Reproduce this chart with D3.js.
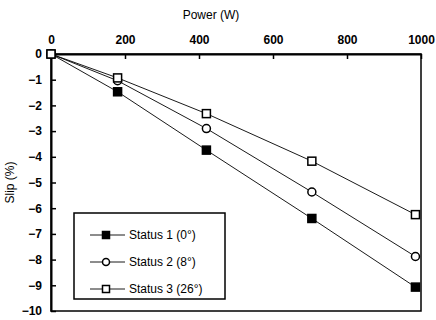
<!DOCTYPE html>
<html>
<head>
<meta charset="utf-8">
<script src="https://cdn.jsdelivr.net/npm/d3@7"></script>
<style>
  body { margin: 0; background: #fff; }
  svg { display: block; }
</style>
</head>
<body>
<div id="chart"></div>
<script>
// data
const power = [0, 180, 420, 705, 985];
const status1 = [0, -1.47, -3.74, -6.4, -9.07];
const status2 = [0, -1.04, -2.9, -5.37, -7.88];
const status3 = [0, -0.93, -2.32, -4.17, -6.25];
const seriesNames = ["Status 1 (0°)", "Status 2 (8°)", "Status 3 (26°)"];
const xTicks = [0, 200, 400, 600, 800, 1000];
const yTicks = [0, -1, -2, -3, -4, -5, -6, -7, -8, -9, -10];

const width = 436, height = 320;
const font = "'Liberation Sans', Arial, sans-serif";

const svg = d3.select("#chart").append("svg")
  .attr("width", width)
  .attr("height", height)
  .attr("font-family", font);

const x = d3.scaleLinear().domain([0, 1000]).range([51, 421]);
const y = d3.scaleLinear().domain([-10, 0]).range([311, 54]);

// frame
svg.append("rect")
  .attr("x", x(0)).attr("y", y(0))
  .attr("width", x(1000) - x(0)).attr("height", y(-10) - y(0))
  .attr("fill", "none").attr("stroke", "#000").attr("stroke-width", 1.5);

// top axis, ticks pointing inward
const xAxis = svg.append("g")
  .attr("transform", `translate(0,${y(0)})`)
  .call(d3.axisTop(x).tickValues(xTicks).tickFormat(d3.format("d"))
    .tickSizeInner(-5).tickSizeOuter(0).tickPadding(10));
xAxis.select(".domain").attr("stroke-width", 2);
xAxis.selectAll(".tick line").attr("stroke-width", 1.5);
xAxis.selectAll("text").attr("font-size", 12).attr("font-weight", "bold").attr("fill", "#000");

// left axis, ticks pointing inward
const yAxis = svg.append("g")
  .attr("transform", `translate(${x(0)},0)`)
  .call(d3.axisLeft(y).tickValues(yTicks).tickFormat(d3.format("d"))
    .tickSizeInner(-5).tickSizeOuter(0).tickPadding(9));
yAxis.select(".domain").attr("stroke-width", 2);
yAxis.selectAll(".tick line").attr("stroke-width", 1.5);
yAxis.selectAll("text").attr("font-size", 12).attr("font-weight", "bold").attr("fill", "#000");

// axis titles
svg.append("text")
  .attr("x", 211).attr("y", 19)
  .attr("text-anchor", "middle")
  .attr("font-size", 12)
  .text("Power (W)");

svg.append("text")
  .attr("transform", `translate(14,${(y(0) + y(-10)) / 2}) rotate(-90)`)
  .attr("text-anchor", "middle")
  .attr("font-size", 12)
  .text("Slip (%)");

const series = [
  { name: seriesNames[0], values: status1, shape: "fsquare" },
  { name: seriesNames[1], values: status2, shape: "circle" },
  { name: seriesNames[2], values: status3, shape: "square" }
];

const line = d3.line()
  .x((d, i) => x(power[i]))
  .y(d => y(d));

const drawMarker = (g, shape, cx, cy, sz = 8) => {
  if (shape === "circle") {
    g.append("circle").attr("cx", cx).attr("cy", cy).attr("r", sz / 2)
      .attr("fill", "#fff").attr("stroke", "#000").attr("stroke-width", 1.5);
  } else {
    g.append("rect").attr("x", cx - sz / 2).attr("y", cy - sz / 2)
      .attr("width", sz).attr("height", sz)
      .attr("fill", shape === "fsquare" ? "#000" : "#fff")
      .attr("stroke", "#000").attr("stroke-width", 1.5);
  }
};

series.forEach(s => {
  svg.append("path")
    .datum(s.values)
    .attr("d", line)
    .attr("fill", "none")
    .attr("stroke", "#000")
    .attr("stroke-width", 0.9);
});

series.forEach(s => {
  const g = svg.append("g");
  s.values.forEach((v, i) => drawMarker(g, s.shape, x(power[i]), y(v)));
});

// legend
const legend = svg.append("g");
legend.append("rect")
  .attr("x", 74).attr("y", 213).attr("width", 151).attr("height", 86)
  .attr("fill", "#fff").attr("stroke", "#000").attr("stroke-width", 1.5);

series.forEach((s, i) => {
  const ly = 235 + i * 27;
  legend.append("line")
    .attr("x1", 90).attr("x2", 125).attr("y1", ly).attr("y2", ly)
    .attr("stroke", "#000").attr("stroke-width", 0.9);
  drawMarker(legend, s.shape, 106, ly, 7);
  legend.append("text")
    .attr("x", 129).attr("y", ly + 4)
    .attr("font-size", 12)
    .text(s.name);
});
</script>
</body>
</html>
